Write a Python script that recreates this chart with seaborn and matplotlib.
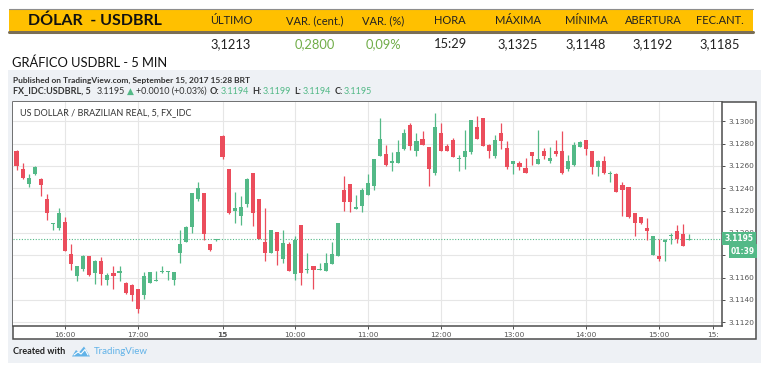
import numpy as np
import matplotlib
matplotlib.use("Agg")
import matplotlib.pyplot as plt
import matplotlib.transforms as mtransforms
from matplotlib.patches import Rectangle, Polygon
import seaborn as sns

sns.set_theme(style="white")
plt.rcParams["font.family"] = ["Lato", "DejaVu Sans"]

# ---- 5-min candles USDBRL ----
opens = [3.1273, 3.1257, 3.1244, 3.1253, 3.1248, 3.1230, 3.1208, 3.1204, 3.1210, 3.1181,
         3.1161, 3.1168, 3.1179, 3.1164, 3.1175, 3.1158, 3.1164, 3.1164, 3.1155, 3.1153,
         3.1150, 3.1144, 3.1155, 3.1157, 3.1165, 3.1165, 3.1158, 3.1182, 3.1192, 3.1205,
         3.1230, 3.1236, 3.1190, 3.1194,
         3.1287, 3.1257, 3.1220, 3.1215, 3.1226, 3.1254, 3.1230, 3.1192, 3.1182, 3.1201,
         3.1177, 3.1190, 3.1163, 3.1207, 3.1167, 3.1170, 3.1167, 3.1166, 3.1172, 3.1179,
         3.1238, 3.1244, 3.1221, 3.1224, 3.1234, 3.1242, 3.1269, 3.1271, 3.1263, 3.1263,
         3.1275, 3.1297, 3.1273, 3.1284, 3.1277, 3.1254, 3.1289, 3.1278, 3.1283, 3.1266,
         3.1268, 3.1272, 3.1295, 3.1303, 3.1279, 3.1269, 3.1289, 3.1276, 3.1262, 3.1263,
         3.1258, 3.1272, 3.1262, 3.1273, 3.1264, 3.1273, 3.1273, 3.1257, 3.1261, 3.1277,
         3.1283, 3.1273, 3.1259, 3.1264, 3.1253, 3.1253, 3.1243, 3.1241, 3.1218, 3.1214,
         3.1204, 3.1180, 3.1179, 3.1192, 3.1197, 3.1202, 3.1199, 3.1194]
highs = [3.1274, 3.1263, 3.1253, 3.1260, 3.1249, 3.1235, 3.1209, 3.1222, 3.1214, 3.1190,
         3.1170, 3.1180, 3.1179, 3.1176, 3.1178, 3.1164, 3.1170, 3.1170, 3.1156, 3.1154,
         3.1150, 3.1165, 3.1165, 3.1166, 3.1170, 3.1166, 3.1165, 3.1203, 3.1206, 3.1236,
         3.1246, 3.1236, 3.1190, 3.1195,
         3.1288, 3.1257, 3.1237, 3.1233, 3.1249, 3.1254, 3.1230, 3.1222, 3.1203, 3.1201,
         3.1203, 3.1192, 3.1197, 3.1207, 3.1182, 3.1170, 3.1173, 3.1182, 3.1192, 3.1209,
         3.1251, 3.1244, 3.1234, 3.1240, 3.1253, 3.1266, 3.1303, 3.1279, 3.1272, 3.1283,
         3.1293, 3.1298, 3.1289, 3.1291, 3.1277, 3.1307, 3.1298, 3.1280, 3.1285, 3.1270,
         3.1292, 3.1301, 3.1305, 3.1303, 3.1280, 3.1288, 3.1298, 3.1282, 3.1264, 3.1264,
         3.1267, 3.1272, 3.1292, 3.1276, 3.1277, 3.1283, 3.1291, 3.1270, 3.1281, 3.1282,
         3.1283, 3.1273, 3.1265, 3.1269, 3.1255, 3.1254, 3.1246, 3.1241, 3.1218, 3.1214,
         3.1213, 3.1197, 3.1195, 3.1195, 3.1200, 3.1207, 3.1208, 3.1199]
lows = [3.1256, 3.1248, 3.1241, 3.1252, 3.1233, 3.1212, 3.1203, 3.1203, 3.1184, 3.1167,
        3.1157, 3.1166, 3.1161, 3.1154, 3.1153, 3.1153, 3.1150, 3.1157, 3.1145, 3.1139,
        3.1128, 3.1141, 3.1155, 3.1157, 3.1164, 3.1158, 3.1153, 3.1173, 3.1192, 3.1200,
        3.1229, 3.1194, 3.1184, 3.1193,
        3.1266, 3.1217, 3.1209, 3.1207, 3.1223, 3.1206, 3.1195, 3.1175, 3.1182, 3.1171,
        3.1173, 3.1166, 3.1158, 3.1153, 3.1164, 3.1150, 3.1167, 3.1166, 3.1172, 3.1179,
        3.1220, 3.1219, 3.1221, 3.1219, 3.1234, 3.1238, 3.1269, 3.1260, 3.1255, 3.1263,
        3.1274, 3.1274, 3.1269, 3.1279, 3.1242, 3.1252, 3.1273, 3.1273, 3.1268, 3.1255,
        3.1257, 3.1271, 3.1284, 3.1278, 3.1267, 3.1267, 3.1275, 3.1257, 3.1253, 3.1256,
        3.1254, 3.1261, 3.1262, 3.1266, 3.1263, 3.1269, 3.1253, 3.1255, 3.1260, 3.1277,
        3.1270, 3.1253, 3.1251, 3.1253, 3.1246, 3.1237, 3.1215, 3.1213, 3.1197, 3.1208,
        3.1194, 3.1180, 3.1175, 3.1175, 3.1190, 3.1191, 3.1188, 3.1194]
closes = [3.1260, 3.1249, 3.1249, 3.1259, 3.1243, 3.1218, 3.1209, 3.1218, 3.1184, 3.1172,
          3.1170, 3.1179, 3.1162, 3.1175, 3.1163, 3.1162, 3.1161, 3.1166, 3.1146, 3.1144,
          3.1132, 3.1161, 3.1165, 3.1158, 3.1166, 3.1166, 3.1165, 3.1190, 3.1205, 3.1236,
          3.1240, 3.1199, 3.1185, 3.1194,
          3.1268, 3.1218, 3.1222, 3.1223, 3.1248, 3.1218, 3.1195, 3.1182, 3.1203, 3.1184,
          3.1191, 3.1166, 3.1194, 3.1164, 3.1168, 3.1167, 3.1168, 3.1173, 3.1181, 3.1209,
          3.1228, 3.1228, 3.1223, 3.1238, 3.1245, 3.1266, 3.1284, 3.1261, 3.1264, 3.1272,
          3.1289, 3.1278, 3.1282, 3.1279, 3.1257, 3.1295, 3.1273, 3.1273, 3.1268, 3.1267,
          3.1273, 3.1301, 3.1284, 3.1278, 3.1273, 3.1283, 3.1282, 3.1259, 3.1264, 3.1259,
          3.1254, 3.1269, 3.1266, 3.1269, 3.1267, 3.1271, 3.1254, 3.1264, 3.1279, 3.1281,
          3.1275, 3.1259, 3.1264, 3.1254, 3.1254, 3.1237, 3.1238, 3.1214, 3.1209, 3.1209,
          3.1202, 3.1197, 3.1177, 3.1194, 3.1198, 3.1195, 3.1188, 3.1195]

time_ticks = [8, 20, 34, 46, 58, 70, 82, 94, 106, 115]
time_labels = ["16:00", "17:00", "15", "10:00", "11:00", "12:00", "13:00", "14:00", "15:00", "15:"]
price_ticks = [3.1120, 3.1140, 3.1160, 3.1180, 3.1200, 3.1220, 3.1240, 3.1260, 3.1280, 3.1300]
last_price = 3.1195
countdown = "01:39"

table_cols = ["ÚLTIMO", "VAR. (cent.)", "VAR. (%)", "HORA", "MÁXIMA", "MÍNIMA", "ABERTURA", "FEC.ANT."]
table_vals = ["3,1213", "0,2800", "0,09%", "15:29", "3,1325", "3,1148", "3,1192", "3,1185"]

UP, DOWN = "#53b987", "#eb4d5c"
DARK = "#333333"
TV_FONT = ["DejaVu Sans"]
W, H = 774, 369

fig = plt.figure(figsize=(W / 100, H / 100), dpi=100)
fig.patch.set_facecolor("white")

# background layer in pixel coordinates
bg = fig.add_axes([0, 0, 1, 1])
bg.set_xlim(0, W); bg.set_ylim(H, 0); bg.axis("off")

# excel-like header
bg.add_patch(Rectangle((9, 8.5), 744, 23, fc="#FFC000", ec="none"))
bg.plot([9, 753], [8.5, 8.5], color="#8d8d8d", lw=0.8)
bg.plot([9, 753], [31.5, 31.5], color="#7a6e55", lw=2.2)
bg.text(95, 20.5, "DÓLAR  - USDBRL", ha="center", va="center", fontsize=11.5,
        fontweight="bold", color="#111111")
col_x = [231, 315, 383, 450, 518, 586, 653, 720]
for x, c, v in zip(col_x, table_cols, table_vals):
    bg.text(x, 20.5, c, ha="center", va="center", fontsize=8, color="#222222")
    vc = "#70AD47" if v in ("0,2800", "0,09%") else "#222222"
    bg.text(x, 44.5, v, ha="center", va="center", fontsize=9.3, color=vc)
bg.text(12, 62.5, "GRÁFICO USDBRL - 5 MIN", ha="left", va="center", fontsize=9.3,
        color="#111111")

# tradingview panel
bg.add_patch(Rectangle((8, 70), 753, 293, fc="#eef1f5", ec="none"))
bg.add_patch(Rectangle((13, 101.5), 742.5, 237.5, fc="white", ec="#4d4d4d", lw=1.1))
bg.text(13, 80, "Published on TradingView.com, September 15, 2017 15:28 BRT", ha="left",
        va="center", fontsize=6, fontweight="bold", color=DARK)

fig.canvas.draw()
rend = fig.canvas.get_renderer()
segs = [("FX_IDC:USDBRL, 5", DARK, "bold", 6), ("3.1195", DARK, "normal", 2),
        ("▲", UP, "normal", 2), ("+0.0010 (+0.03%)", DARK, "normal", 3),
        ("O:", DARK, "bold", 1.5), ("3.1194", UP, "normal", 3),
        ("H:", DARK, "bold", 1.5), ("3.1199", UP, "normal", 3),
        ("L:", DARK, "bold", 1.5), ("3.1194", UP, "normal", 3),
        ("C:", DARK, "bold", 1.5), ("3.1195", UP, "normal", 0)]
x = 13
for s, c, wgt, gap in segs:
    t = bg.text(x, 91, s, ha="left", va="center", fontsize=6.5, fontweight=wgt, color=c)
    x += t.get_window_extent(rend).width + gap

# footer
bg.text(13, 352, "Created with", ha="left", va="center", fontsize=6.5, fontweight="bold",
        color="#222222")
bg.add_patch(Polygon([(72, 356.5), (76, 350), (79, 352.5), (84, 346.5), (90, 356.5)],
                     closed=True, fc="#62b3e8", ec="none"))
bg.plot([74, 78, 81, 85, 88], [355, 352, 354, 349.5, 355], color="white", lw=0.8)
bg.text(94, 352, "TradingView", ha="left", va="center", fontsize=7, color="#62b3e8")

# candlestick chart
ax = fig.add_axes([13 / W, (H - 326) / H, (722 - 13) / W, (326 - 101.5) / H])
o, hi, lo, c = map(np.array, (opens, highs, lows, closes))
idx = np.arange(len(o))
cols = np.where(c >= o, UP, DOWN)
ax.vlines(idx, lo, hi, colors=cols, lw=0.9, zorder=3)
body = np.maximum(np.abs(c - o), 0.00009)
ax.bar(idx, body, bottom=np.minimum(o, c), width=0.68, color=cols, linewidth=0, zorder=4)
ax.axhline(last_price, color=UP, lw=0.8, ls=(0, (1, 1.5)), zorder=2)

ax.set_xlim(-0.58, 116.42)
ax.set_ylim(3.11167, 3.13176)
ax.set_xticks(time_ticks)
ax.set_xticklabels(time_labels, family=TV_FONT)
ax.set_yticks(price_ticks)
ax.set_yticklabels([f"{p:.4f}" for p in price_ticks], family=TV_FONT)
ax.yaxis.tick_right()
ax.grid(True, color="#e6e6e6", lw=0.8)
ax.set_axisbelow(True)
for side in ("left", "top"):
    ax.spines[side].set_visible(False)
for side in ("right", "bottom"):
    ax.spines[side].set_color("#4d4d4d")
    ax.spines[side].set_linewidth(1.1)
ax.tick_params(axis="both", labelsize=5.3, labelcolor="#555555", color="#4d4d4d",
               length=2.5, width=0.7, pad=2)
ax.tick_params(axis="x", bottom=True)
ax.tick_params(axis="y", right=True)
ax.get_xticklabels()[2].set_fontweight("bold")
ax.text(0.01, 0.95, "US DOLLAR / BRAZILIAN REAL, 5, FX_IDC", transform=ax.transAxes,
        ha="left", va="center", fontsize=6.5, color=DARK)

# last price / countdown tags on the price scale
tr = mtransforms.blended_transform_factory(ax.transAxes, ax.transData)
ax.annotate(f"{last_price:.4f}", xy=(1, last_price), xycoords=tr, xytext=(2, 0),
            textcoords="offset points", ha="left", va="center", fontsize=5.5,
            family=TV_FONT, fontweight="bold", color="white", annotation_clip=False,
            zorder=10, bbox=dict(boxstyle="square,pad=0.3", fc=UP, ec="none"))
ax.annotate(countdown, xy=(1, last_price), xycoords=tr, xytext=(6.5, -9),
            textcoords="offset points", ha="left", va="center", fontsize=5.5,
            family=TV_FONT, fontweight="bold", color="white", annotation_clip=False,
            zorder=10, bbox=dict(boxstyle="square,pad=0.3", fc=UP, ec="none"))

fig.savefig("out.png", dpi=100)
